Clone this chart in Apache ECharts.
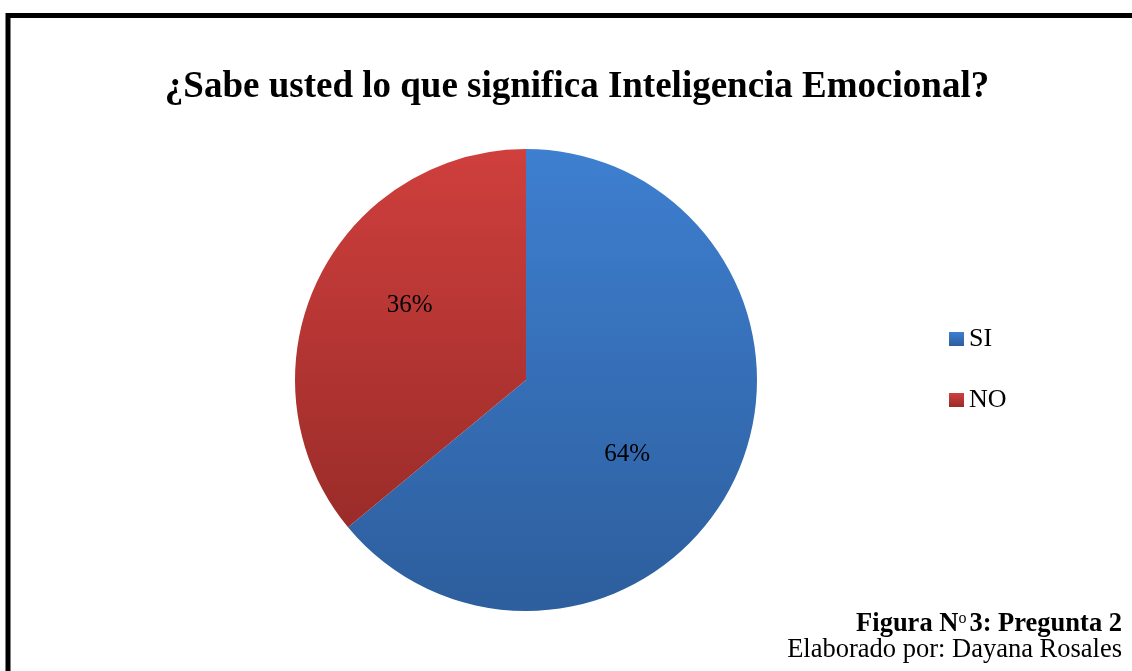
<!DOCTYPE html>
<html><head><meta charset="utf-8">
<script src="https://cdn.jsdelivr.net/npm/echarts@6/dist/echarts.min.js"></script>
<style>html,body{margin:0;padding:0;background:#fff}#c{width:1132px;height:671px}</style>
</head><body><div id="c"></div>
<script>
const titleText = '¿Sabe usted lo que significa Inteligencia Emocional?';
const categories = ['SI', 'NO'];
const values = [64, 36];
const captionBold = 'Figura N{s|o}3: Pregunta 2';
const captionNormal = 'Elaborado por: Dayana Rosales';

const gradients = [
  ['#3e7fd0', '#2d5e9d'],
  ['#cf3f3d', '#9a2c29']
];
const labelOffsets = [[-6, 24], [-9, -24]];
const serif = '"Liberation Serif", "Times New Roman", serif';

const chart = echarts.init(document.getElementById('c'), null, {renderer: 'canvas'});
const data = categories.map((name, i) => ({
  name, value: values[i],
  itemStyle: {
    color: new echarts.graphic.LinearGradient(0, 0, 0, 1, [
      {offset: 0, color: gradients[i][0]}, {offset: 1, color: gradients[i][1]}
    ], false)
  },
  label: {offset: labelOffsets[i]}
}));

chart.setOption({
  animation: false,
  backgroundColor: '#fff',
  title: {
    text: titleText, left: 572, top: 64, textAlign: 'center',
    textStyle: {fontFamily: serif, fontWeight: 'bold', fontSize: 37, color: '#000'}
  },
  legend: {
    orient: 'vertical', left: 944, top: 321,
    itemWidth: 15, itemHeight: 14, itemGap: 35,
    icon: 'rect',
    textStyle: {fontFamily: serif, fontSize: 26, color: '#000', lineHeight: 26},
    data: categories
  },
  series: [{
    type: 'pie', center: [526, 380], radius: 231, startAngle: 90, clockwise: true,
    label: {show: true, position: 'inside', formatter: '{d}%', fontFamily: serif, fontSize: 25, color: '#000'},
    labelLine: {show: false},
    itemStyle: {borderWidth: 0},
    emphasis: {disabled: true},
    data
  }],
  graphic: [
    {type: 'rect', shape: {x: 8, y: 15.5, width: 1300, height: 800}, style: {fill: 'none', stroke: '#000', lineWidth: 5}, z: 10},
    {type: 'text', x: 1122, y: 624, style: {
      text: captionBold, textAlign: 'right', textVerticalAlign: 'middle',
      font: 'bold 26.5px ' + serif, fill: '#000',
      rich: {s: {fontFamily: serif, fontSize: 16, fontWeight: 'normal', verticalAlign: 'top', fill: '#000', padding: [0, 3, 0, 0]}}
    }},
    {type: 'text', x: 1122, y: 650, style: {text: captionNormal, textAlign: 'right', textVerticalAlign: 'middle', font: '26.5px ' + serif, fill: '#000'}}
  ]
});
</script></body></html>
